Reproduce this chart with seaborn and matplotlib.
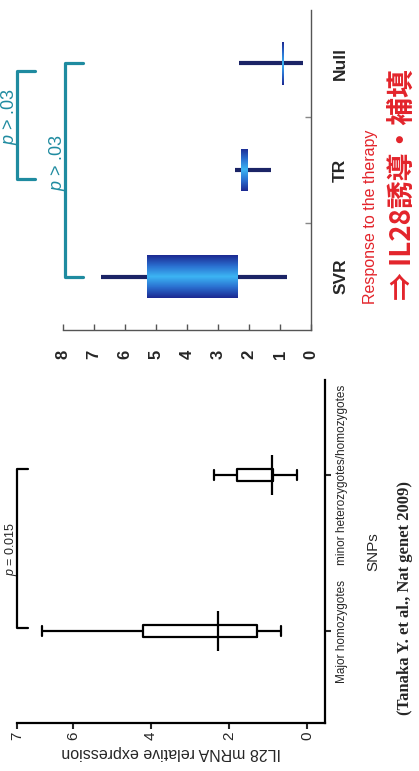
import matplotlib
matplotlib.use('Agg')
import matplotlib.pyplot as plt
from matplotlib import font_manager
from matplotlib.colors import LinearSegmentedColormap
import numpy as np
import pandas as pd
import seaborn as sns

# left panel - IL28 expression by SNP genotype (min, q1, median, q3, max)
snp_groups = ['Major homozygotes', 'minor heterozygotes/homozygotes']
major_stats = [0.67, 1.28, 2.28, 4.21, 6.79]
minor_stats = [0.26, 0.87, 0.90, 1.79, 2.38]
snp_ticks = [0, 2, 4, 6, 7.44]
snp_ticklabels = ['0', '2', '4', '6', '7']

# right panel - response to the therapy
resp_groups = ['SVR', 'TR', 'Null']
svr_stats = [0.77, 2.35, 3.80, 5.29, 6.77]
tr_stats = [1.29, 2.03, 2.15, 2.26, 2.45]
null_stats = [0.26, 0.87, 0.90, 0.93, 2.32]
resp_ticks = list(range(0, 9))

sns.set_theme(style='white')
plt.rcParams['font.family'] = ['Liberation Sans', 'DejaVu Sans']
plt.rcParams['mathtext.fontset'] = 'custom'
plt.rcParams['mathtext.it'] = 'Liberation Sans:italic'
plt.rcParams['mathtext.rm'] = 'Liberation Sans'

names = {f.name for f in font_manager.fontManager.ttflist}
narrow = 'Liberation Sans Narrow' if 'Liberation Sans Narrow' in names else 'Liberation Sans'

df_snp = pd.DataFrame({'group': np.repeat(snp_groups, 5),
                       'value': major_stats + minor_stats})
df_resp = pd.DataFrame({'group': np.repeat(resp_groups, 5),
                        'value': svr_stats + tr_stats + null_stats})

fig = plt.figure(figsize=(4.19, 7.71), dpi=100)
fig.patch.set_facecolor('white')

# ---------------- left panel (lower half, slide turned on its side)
ax1 = fig.add_axes([17 / 419, 48 / 771, 308 / 419, 343 / 771])
sns.boxplot(data=df_snp, x='value', y='group', order=snp_groups, orient='h',
            whis=(0, 100), width=0.075, fill=False, color='black', linewidth=1.6,
            medianprops={'visible': False}, ax=ax1)
# longer caps
for ln in ax1.lines:
    xd, yd = np.asarray(ln.get_xdata()), np.asarray(ln.get_ydata())
    if len(xd) == 2 and xd[0] == xd[1] and ln.get_visible():
        c = yd.mean()
        ln.set_ydata([c - 0.03, c + 0.03])
medians = [major_stats[2], minor_stats[2]]
sns.scatterplot(x=medians, y=list(range(len(snp_groups))), marker='|', s=800,
                linewidth=1.6, color='black', ax=ax1, zorder=5, legend=False)

ax1.set_xlim(7.44, -0.46)
ax1.set_ylim(-0.59, 1.61)
ax1.set_xticks(snp_ticks)
ax1.set_xticklabels(snp_ticklabels, rotation=90, fontsize=11)
ax1.yaxis.tick_right()
ax1.yaxis.set_label_position('right')
ax1.set_yticks(range(len(snp_groups)))
ax1.set_yticklabels(snp_groups, rotation=90, va='center', fontsize=8.5, family=narrow)
ax1.set_ylabel('SNPs', rotation=90, fontsize=11, labelpad=13)
ax1.set_xlabel('IL28 mRNA relative expression', rotation=180, fontsize=11.5, labelpad=4)
for s in ['top', 'left']:
    ax1.spines[s].set_visible(False)
for s in ['bottom', 'right']:
    ax1.spines[s].set_color('black')
    ax1.spines[s].set_linewidth(1.6)
ax1.tick_params(axis='x', direction='out', length=4, width=1.5, pad=2, bottom=True)
ax1.tick_params(axis='y', direction='out', length=4, width=1.5, pad=4, right=True, left=False)

ax1.plot([7.15, 7.44, 7.44, 7.15], [0.02, 0.02, 1.04, 1.04], color='black', lw=1.6,
         clip_on=False)
ax1.text(7.6, 0.53, r'$p$ = 0.015', rotation=90, ha='center', va='center', fontsize=9)

# ---------------- right panel (upper half)
navy = '#1b2466'
teal = '#1f8ba0'
ax2 = fig.add_axes([63 / 419, 441 / 771, 248 / 419, 320 / 771])
sns.boxplot(data=df_resp, x='value', y='group', order=resp_groups, orient='h',
            whis=(0, 100), width=0.40, showcaps=False, color='#2a7fd8',
            boxprops=dict(linewidth=0),
            whiskerprops=dict(color=navy, linewidth=3),
            medianprops={'visible': False}, ax=ax2)

cmap = LinearSegmentedColormap.from_list(
    'box', ['#1c2a92', '#2a6fd0', '#3cb6f4', '#2a6fd0', '#1c2a92'])
grad = np.linspace(0, 1, 64).reshape(-1, 1)
for patch in list(ax2.patches):
    v = patch.get_path().vertices
    x0, x1 = v[:, 0].min(), v[:, 0].max()
    y0, y1 = v[:, 1].min(), v[:, 1].max()
    im = ax2.imshow(grad, extent=(x0, x1, y0, y1), aspect='auto', cmap=cmap,
                    origin='lower', zorder=patch.get_zorder() + 0.01, interpolation='bilinear')
    im.set_clip_path(patch)

ax2.set_xlim(8, 0)
ax2.set_ylim(-0.5, 2.5)
ax2.set_xticks(resp_ticks)
ax2.set_xticklabels([str(t) for t in resp_ticks], rotation=90, fontsize=12, fontweight='bold')
ax2.yaxis.tick_right()
ax2.set_yticks(range(len(resp_groups)))
ax2.set_yticklabels(resp_groups, rotation=90, va='center', fontsize=12.5, fontweight='bold')
ax2.set_yticks([0.5, 1.5], minor=True)
ax2.set_ylabel('')
ax2.set_xlabel('')
for s in ['top', 'left']:
    ax2.spines[s].set_visible(False)
for s in ['bottom', 'right']:
    ax2.spines[s].set_color('#555555')
    ax2.spines[s].set_linewidth(1.0)
ax2.tick_params(axis='x', direction='in', length=4, width=1, color='#555555', pad=14, bottom=True)
ax2.tick_params(axis='y', which='major', length=0, pad=16, right=True, left=False)
ax2.tick_params(axis='y', which='minor', direction='in', length=4, width=1, color='#888888',
                right=True, left=False)

ax2.plot([7.35, 7.94, 7.94, 7.35], [0, 0, 2, 2], color=teal, lw=2.3, clip_on=False)
ax2.plot([8.9, 9.48, 9.48, 8.9], [0.915, 0.915, 1.925, 1.925], color=teal, lw=2.3,
         clip_on=False)
ax2.text(8.19, 1.07, r'$p$ > .03', rotation=90, ha='center', va='center', color=teal,
         fontsize=13)
ax2.text(9.74, 1.5, r'$p$ > .03', rotation=90, ha='center', va='center', color=teal,
         fontsize=13, clip_on=False)

# ---------------- slide text
red = '#e3242b'
fig.text(370 / 419, 1 - 217 / 771, 'Response to the therapy', rotation=90, ha='center',
         va='center', color=red, fontsize=11.5)
fig.text(403 / 419, 1 - 300 / 771, '⇒ IL28誘導・補填', rotation=90, ha='center', va='bottom',
         color=red, fontsize=20, fontweight='bold', family=['Noto Sans CJK JP', 'DejaVu Sans'])
fig.text(405 / 419, 1 - 598 / 771, '(Tanaka Y. et al., Nat genet 2009)', rotation=90,
         ha='center', va='center', fontsize=12, fontweight='bold', family='Liberation Serif')

fig.savefig('out.png', dpi=100)
